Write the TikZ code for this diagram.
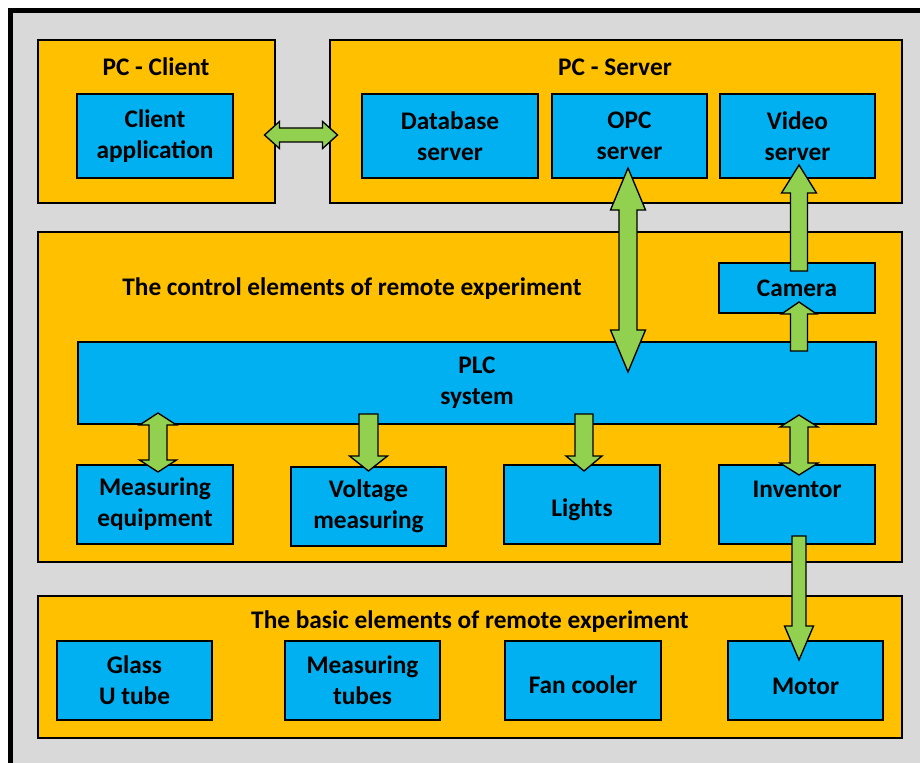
\documentclass[tikz,border=0pt]{standalone}
\usepackage{fontspec}
\setmainfont{Carlito}
\usetikzlibrary{calc}

\definecolor{backgray}{HTML}{D9D9D9}
\definecolor{panelorange}{HTML}{FFC000}
\definecolor{unitblue}{HTML}{00B0F0}
\definecolor{arrowgreen}{HTML}{92D050}

\tikzset{
  every node/.style={font=\bfseries\fontsize{19}{23.25}\selectfont, align=center},
  panel/.style={draw=black, line width=2.2pt, fill=panelorange, inner sep=0pt},
  unit/.style={draw=black, line width=1.5pt, fill=unitblue, inner sep=0pt},
  heading/.style={inner sep=0pt},
  % a single text line set slightly below the middle of its box
  lowline/.style={text height=#1, text depth=0pt},
  blockarrow/.style={draw=black, line width=1pt, fill=arrowgreen, line join=miter},
  % rectangle spanning the corners (x1,y1)-(x2,y2), given in pixel units
  span/.style args={#1/#2/#3/#4}{minimum width={(#3-#1)*0.75pt}, minimum height={(#4-#2)*0.75pt}},
}

% a rectangular node from its corners: style, name, x1, y1, x2, y2, text
\newcommand\boxnode[7]{%
  \node[#1, span={#3/#4/#5/#6}] (#2) at ({(#3+#5)/2},{(#4+#6)/2}) {#7};}

% vertical single block arrow: tail, tip, shaft half-width, head half-width, head length (px)
\newcommand\vsingle[5]{%
  \draw[blockarrow] let \p1=#1, \p2=#2, \n1={(\y2>\y1)*2-1} in
    (\x1-#3*0.75pt,\y1) -- (\x1-#3*0.75pt,\y2-\n1*#5*0.75pt)
    -- (\x1-#4*0.75pt,\y2-\n1*#5*0.75pt) -- (\x1,\y2)
    -- (\x1+#4*0.75pt,\y2-\n1*#5*0.75pt) -- (\x1+#3*0.75pt,\y2-\n1*#5*0.75pt)
    -- (\x1+#3*0.75pt,\y1) -- cycle;}

% vertical double block arrow: upper end, lower end, shaft half-width, head half-width, head length
\newcommand\vdouble[5]{%
  \draw[blockarrow] let \p1=#1, \p2=#2 in
    (\x1,\y1) -- (\x1+#4*0.75pt,\y1-#5*0.75pt) -- (\x1+#3*0.75pt,\y1-#5*0.75pt)
    -- (\x1+#3*0.75pt,\y2+#5*0.75pt) -- (\x1+#4*0.75pt,\y2+#5*0.75pt) -- (\x1,\y2)
    -- (\x1-#4*0.75pt,\y2+#5*0.75pt) -- (\x1-#3*0.75pt,\y2+#5*0.75pt)
    -- (\x1-#3*0.75pt,\y1-#5*0.75pt) -- (\x1-#4*0.75pt,\y1-#5*0.75pt) -- cycle;}

% horizontal double block arrow: left end, right end, shaft half-width, head half-width, head length
\newcommand\hdouble[5]{%
  \draw[blockarrow] let \p1=#1, \p2=#2 in
    (\x1,\y1) -- (\x1+#5*0.75pt,\y1+#4*0.75pt) -- (\x1+#5*0.75pt,\y1+#3*0.75pt)
    -- (\x2-#5*0.75pt,\y1+#3*0.75pt) -- (\x2-#5*0.75pt,\y1+#4*0.75pt) -- (\x2,\y1)
    -- (\x2-#5*0.75pt,\y1-#4*0.75pt) -- (\x2-#5*0.75pt,\y1-#3*0.75pt)
    -- (\x1+#5*0.75pt,\y1-#3*0.75pt) -- (\x1+#5*0.75pt,\y1-#4*0.75pt) -- cycle;}

\begin{document}
\begin{tikzpicture}[x=0.75pt, y=-0.75pt]
  \useasboundingbox (0,0) rectangle (920,763);
  \clip (0,0) rectangle (920,763);
  \fill[white] (0,0) rectangle (920,763);

  % outer frame
  \draw[line width=3.4pt, fill=backgray] (10.5,10.5) rectangle (940,790);

  % panels
  \boxnode{panel}{client}{38}{40}{275}{203}{}
  \boxnode{panel}{server}{330}{40}{902}{203}{}
  \boxnode{panel}{control}{38}{232}{902}{562}{}
  \boxnode{panel}{basic}{38}{596}{902}{738}{}

  % panel headings
  \node[heading] (clienttitle) at (156,67) {PC - Client};
  \node[heading] (servertitle) at (615,67) {PC - Server};
  \node[heading] (controltitle) at (352,289) {The control elements of remote experiment};
  \node[heading] (basictitle) at (470,622) {The basic elements of remote experiment};

  % PC units
  \boxnode{unit}{clientapp}{77}{94}{233}{178}{Client\\application}
  \boxnode{unit}{dbserver}{362}{94}{538}{178}{Database\\server}
  \boxnode{unit}{opc}{552}{94}{707}{178}{OPC\\server}
  \boxnode{unit}{video}{720}{94}{875}{178}{Video\\server}

  % control units
  \boxnode{unit}{camera}{719}{263}{875}{313}{Camera}
  \boxnode{unit}{plc}{78}{342}{876}{424}{PLC\\system}
  \boxnode{unit}{meas}{77}{465}{233}{544}{Measuring\\equipment}
  \boxnode{unit}{volt}{291}{467}{446}{546}{Voltage\\measuring}
  \boxnode{unit, lowline=17.6pt}{lights}{504}{465}{660}{544}{Lights}
  \boxnode{unit}{inv}{719}{465}{875}{544}{Inventor\\\mbox{}}

  % basic units
  \boxnode{unit}{glass}{57}{641}{212}{720}{Glass\\U tube}
  \boxnode{unit}{tubes}{285}{641}{440}{720}{Measuring\\tubes}
  \boxnode{unit, lowline=19.5pt}{fan}{505}{641}{661}{720}{Fan cooler}
  \boxnode{unit, lowline=20.5pt}{motor}{728}{641}{883}{720}{Motor}

  % connections
  \hdouble{($(client.east)+(-12,13.5)$)}{($(server.west)+(9,13.5)$)}{7}{13.5}{15}
  \vdouble{($(opc.south)+(-1.5,-11)$)}{($(opc.south |- plc.north)+(-1.5,31)$)}{9}{17.5}{42}
  \vsingle{($(camera.north)+(2,9)$)}{($(video.south)+(1.5,-14)$)}{8.5}{17.5}{28}
  \vsingle{($(camera.south |- plc.north)+(2,10)$)}{($(camera.south)+(2,-12)$)}{8.5}{17.5}{12}
  \vdouble{($(meas.north |- plc.south)+(3,-12)$)}{($(meas.north)+(3,8)$)}{9}{18.5}{12}
  \vsingle{($(volt.north |- plc.south)+(0,-11)$)}{($(volt.north)+(0,5)$)}{9.5}{19}{15}
  \vsingle{($(lights.north |- plc.south)+(2,-11)$)}{($(lights.north)+(2,7)$)}{9}{18}{15}
  \vdouble{($(inv.north |- plc.south)+(2,-10)$)}{($(inv.north)+(2,11)$)}{9}{19}{12}
  \vsingle{($(inv.south)+(2,-9)$)}{($(inv.south |- motor.north)+(2,20)$)}{7}{14.5}{34}
\end{tikzpicture}
\end{document}
